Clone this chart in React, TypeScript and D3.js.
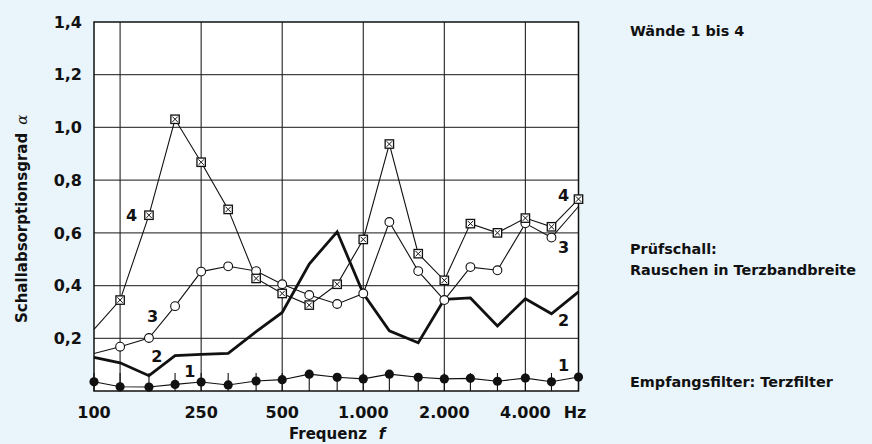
import React from "react";
import * as d3 from "d3";

const freqs = [100, 125, 160, 200, 250, 315, 400, 500, 630, 800, 1000, 1250, 1600, 2000, 2500, 3150, 4000, 5000, 6300];
const wall1 = [0.035, 0.016, 0.015, 0.025, 0.034, 0.023, 0.038, 0.043, 0.064, 0.052, 0.046, 0.064, 0.052, 0.046, 0.048, 0.037, 0.049, 0.035, 0.053];
const wall2 = [0.128, 0.107, 0.058, 0.134, 0.139, 0.143, 0.225, 0.298, 0.482, 0.604, 0.37, 0.228, 0.183, 0.348, 0.353, 0.247, 0.35, 0.293, 0.376];
const wall3 = [0.142, 0.168, 0.201, 0.322, 0.453, 0.473, 0.455, 0.405, 0.364, 0.33, 0.37, 0.641, 0.455, 0.345, 0.47, 0.458, 0.636, 0.582, 0.70];
const wall4 = [0.234, 0.345, 0.667, 1.031, 0.868, 0.689, 0.427, 0.37, 0.326, 0.405, 0.575, 0.937, 0.521, 0.42, 0.635, 0.60, 0.656, 0.623, 0.728];

const gridFreqs = [125, 250, 500, 1000, 2000, 4000];
const xTickFreqs = [100, 250, 500, 1000, 2000, 4000];
const xTickLabels = ["100", "250", "500", "1.000", "2.000", "4.000"];
const yTicks = [0.2, 0.4, 0.6, 0.8, 1.0, 1.2, 1.4];
const yTickLabels = ["0,2", "0,4", "0,6", "0,8", "1,0", "1,2", "1,4"];

const seriesLabels = [
  { t: "4", f: 138, v: 0.667 },
  { t: "3", f: 165, v: 0.282 },
  { t: "2", f: 171, v: 0.13 },
  { t: "1", f: 227, v: 0.076 },
  { t: "4", f: 5546, v: 0.744 },
  { t: "3", f: 5546, v: 0.547 },
  { t: "2", f: 5546, v: 0.269 },
  { t: "1", f: 5546, v: 0.096 },
];

const W = 872, H = 444;
const L = 94, R = 578.5, T = 22, B = 391;
const FONT = "'DejaVu Sans', Verdana, sans-serif";

export default function App() {
  const x = d3.scaleLog().domain([100, 6300]).range([L, R]);
  const y = d3.scaleLinear().domain([0, 1.4]).range([B, T]);
  const line = d3.line<number>().x((_, i) => x(freqs[i])).y((d) => y(d));

  return (
    <svg width={W} height={H} style={{ position: "absolute", left: 0, top: 0 }} fontFamily={FONT}>
      <rect x={0} y={0} width={W} height={H} fill="#e9f4fb" />
      <rect x={L} y={T} width={R - L} height={B - T} fill="#ffffff" />
      {yTicks.slice(0, -1).map((v) => (
        <line key={v} x1={L} x2={R} y1={y(v)} y2={y(v)} stroke="#444" strokeWidth={1.2} />
      ))}
      {gridFreqs.map((f) => (
        <line key={f} x1={x(f)} x2={x(f)} y1={T} y2={B} stroke="#222" strokeWidth={1.1} />
      ))}
      {freqs.map((f) => (
        <line key={"t" + f} x1={x(f)} x2={x(f)} y1={B} y2={B - 18} stroke="#111" strokeWidth={1.1} />
      ))}
      <rect x={L} y={T} width={R - L} height={B - T} fill="none" stroke="#111" strokeWidth={1.5} />

      <path d={line(wall4) || ""} fill="none" stroke="#111" strokeWidth={1.1} />
      <path d={line(wall3) || ""} fill="none" stroke="#111" strokeWidth={1.1} />
      <path d={line(wall2) || ""} fill="none" stroke="#111" strokeWidth={2.8} strokeLinejoin="miter" />
      <path d={line(wall1) || ""} fill="none" stroke="#111" strokeWidth={1.1} />

      {wall1.map((v, i) => (
        <circle key={"a" + i} cx={x(freqs[i])} cy={y(v)} r={4.6} fill="#111" />
      ))}
      {wall3.map((v, i) =>
        i === 0 || i === freqs.length - 1 ? null : (
          <circle key={"c" + i} cx={x(freqs[i])} cy={y(v)} r={4.4} fill="#fff" stroke="#111" strokeWidth={1.1} />
        )
      )}
      {wall4.map((v, i) => {
        if (i === 0) return null;
        const cx = x(freqs[i]), cy = y(v), s = 4.2;
        return (
          <g key={"d" + i}>
            <rect x={cx - s} y={cy - s} width={2 * s} height={2 * s} fill="#fff" stroke="#111" strokeWidth={1.3} />
            <line x1={cx - s + 1.5} y1={cy - s + 1.5} x2={cx + s - 1.5} y2={cy + s - 1.5} stroke="#111" strokeWidth={1} />
            <line x1={cx - s + 1.5} y1={cy + s - 1.5} x2={cx + s - 1.5} y2={cy - s + 1.5} stroke="#111" strokeWidth={1} />
          </g>
        );
      })}

      {seriesLabels.map((d, i) => (
        <text key={"l" + i} x={x(d.f)} y={y(d.v)} dy="0.36em" textAnchor="middle" fontSize={16} fontWeight="bold" fill="#111">
          {d.t}
        </text>
      ))}

      {yTicks.map((v, i) => (
        <text key={"y" + v} x={82} y={y(v)} dy="0.36em" textAnchor="end" fontSize={16} fontWeight="bold" fill="#111">
          {yTickLabels[i]}
        </text>
      ))}
      {xTickFreqs.map((f, i) => (
        <text key={"x" + f} x={x(f)} y={418} textAnchor="middle" fontSize={16} fontWeight="bold" fill="#111">
          {xTickLabels[i]}
        </text>
      ))}
      <text x={575} y={418} textAnchor="middle" fontSize={16} fontWeight="bold" fill="#111">Hz</text>
      <text x={289} y={439} fontSize={15} fontWeight="bold" fill="#111">
        Frequenz
        <tspan dx={12} fontStyle="italic">f</tspan>
      </text>
      <text transform="translate(26.5,323) rotate(-90)" fontSize={15} fontWeight="bold" fill="#111">
        Schallabsorptionsgrad
        <tspan dx={8} fontStyle="italic" fontWeight="normal" fontFamily="'DejaVu Serif', serif">α</tspan>
      </text>

      <text x={630} y={36} fontSize={14.4} fontWeight="bold" fill="#111">Wände 1 bis 4</text>
      <text x={630} y={254} fontSize={14.4} fontWeight="bold" fill="#111">Prüfschall:</text>
      <text x={630} y={275} fontSize={14.4} fontWeight="bold" fill="#111">Rauschen in Terzbandbreite</text>
      <text x={630} y={387} fontSize={14.4} fontWeight="bold" fill="#111">Empfangsfilter: Terzfilter</text>
    </svg>
  );
}
